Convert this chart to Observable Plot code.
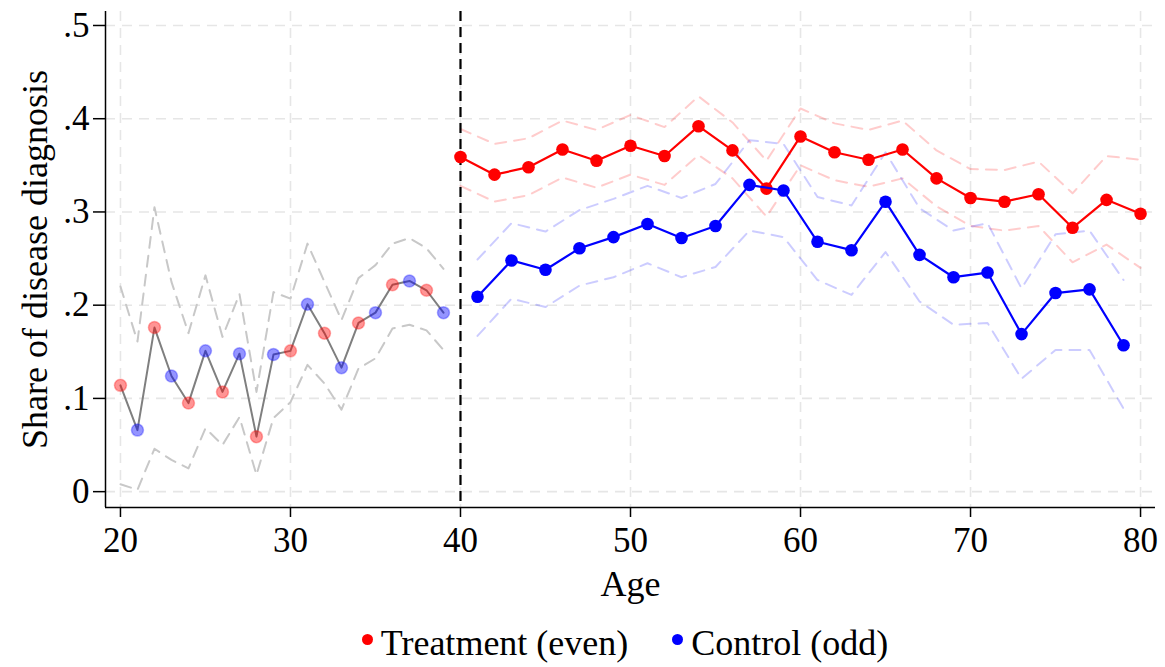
<!DOCTYPE html>
<html><head><meta charset="utf-8">
<script src="https://cdn.jsdelivr.net/npm/d3@7"></script>
<script src="https://cdn.jsdelivr.net/npm/@observablehq/plot@0.6"></script>
<style>
body{margin:0;background:#fff;font-family:"Liberation Serif","Times New Roman",serif;}
#wrap{position:relative;width:1165px;height:667px;overflow:hidden;}
#legend{position:absolute;left:45px;top:623px;width:1160px;height:40px;display:flex;justify-content:center;align-items:center;font-size:36px;line-height:40px;color:#000;}
#legend .item{display:flex;align-items:center;margin:0 22px;}
#legend .dot{width:11px;height:11px;border-radius:50%;margin-right:8px;margin-top:-8px;}
</style></head><body>
<div id="wrap"><div id="chart"></div><div id="legend"></div></div>
<script>
// ---- data ----
const preAges = [20,21,22,23,24,25,26,27,28,29,30,31,32,33,34,35,36,37,38,39];
const preShare = [0.114,0.066,0.176,0.124,0.095,0.151,0.107,0.148,0.059,0.147,0.151,0.201,0.170,0.133,0.181,0.192,0.222,0.226,0.216,0.192];
const preUpper = [0.220,0.161,0.305,0.225,0.170,0.232,0.166,0.212,0.107,0.214,0.207,0.266,0.225,0.184,0.229,0.243,0.266,0.272,0.261,0.239];
const preLower = [0.008,0.002,0.046,0.034,0.025,0.068,0.050,0.080,0.018,0.079,0.096,0.136,0.116,0.088,0.132,0.143,0.175,0.179,0.173,0.152];

const treatAges = [40,42,44,46,48,50,52,54,56,58,60,62,64,66,68,70,72,74,76,78,80];
const treatShare = [0.359,0.340,0.348,0.367,0.355,0.371,0.360,0.392,0.366,0.325,0.381,0.364,0.356,0.367,0.336,0.315,0.311,0.319,0.283,0.313,0.298];
const treatUpper = [0.389,0.373,0.379,0.398,0.388,0.404,0.391,0.424,0.396,0.355,0.411,0.395,0.388,0.398,0.366,0.346,0.345,0.354,0.320,0.360,0.356];
const treatLower = [0.328,0.311,0.318,0.337,0.326,0.340,0.329,0.361,0.336,0.295,0.350,0.334,0.327,0.336,0.306,0.285,0.280,0.285,0.246,0.265,0.240];

const controlAges = [41,43,45,47,49,51,53,55,57,59,61,63,65,67,69,71,73,75,77,79];
const controlShare = [0.209,0.248,0.238,0.261,0.273,0.287,0.272,0.285,0.329,0.323,0.268,0.259,0.311,0.254,0.230,0.235,0.169,0.213,0.217,0.157];
const controlUpper = [0.249,0.288,0.279,0.302,0.314,0.328,0.315,0.330,0.377,0.373,0.316,0.307,0.364,0.304,0.280,0.288,0.218,0.276,0.280,0.227];
const controlLower = [0.167,0.207,0.198,0.221,0.230,0.245,0.230,0.241,0.280,0.273,0.227,0.211,0.257,0.204,0.179,0.181,0.121,0.152,0.152,0.089];

const cutoffAge = [40];
const xTicks = [20,30,40,50,60,70,80];
const yTicks = [0,0.1,0.2,0.3,0.4,0.5];
const seriesNames = ["Treatment (even)","Control (odd)"];
const seriesColors = ["#ff0000","#0000ff"];

// ---- tables ----
const pre = preAges.map((a,i)=>({age:a, share:preShare[i], upper:preUpper[i], lower:preLower[i], color: a%2===0 ? seriesColors[0] : seriesColors[1]}));
const treat = treatAges.map((a,i)=>({age:a, share:treatShare[i], upper:treatUpper[i], lower:treatLower[i]}));
const control = controlAges.map((a,i)=>({age:a, share:controlShare[i], upper:controlUpper[i], lower:controlLower[i]}));

const xDomain = [19.12, 80.88];
const yDomain = [-0.017, 0.515];
const grid = {stroke:"#e6e6e6", strokeOpacity:1, strokeWidth:1.6, strokeDasharray:"10,7"};
const ciDash = "11,8";

const chart = Plot.plot({
  width:1165, height:627,
  marginLeft:105, marginRight:10, marginTop:11, marginBottom:120,
  style:{fontFamily:"Liberation Serif, Times New Roman, serif", color:"#000", background:"#fff"},
  x:{domain:xDomain},
  y:{domain:yDomain},
  marks:[
    Plot.gridX(xTicks, grid),
    Plot.gridY(yTicks, grid),
    // pre-period CIs
    Plot.line(pre, {x:"age", y:"upper", stroke:"#c8c8c8", strokeWidth:2, strokeDasharray:ciDash}),
    Plot.line(pre, {x:"age", y:"lower", stroke:"#c8c8c8", strokeWidth:2, strokeDasharray:ciDash}),
    // post CIs
    Plot.line(treat, {x:"age", y:"upper", stroke:seriesColors[0], strokeOpacity:0.2, strokeWidth:2, strokeDasharray:ciDash}),
    Plot.line(treat, {x:"age", y:"lower", stroke:seriesColors[0], strokeOpacity:0.2, strokeWidth:2, strokeDasharray:ciDash}),
    Plot.line(control, {x:"age", y:"upper", stroke:seriesColors[1], strokeOpacity:0.2, strokeWidth:2, strokeDasharray:ciDash}),
    Plot.line(control, {x:"age", y:"lower", stroke:seriesColors[1], strokeOpacity:0.2, strokeWidth:2, strokeDasharray:ciDash}),
    // cutoff
    Plot.ruleX(cutoffAge, {stroke:"#000", strokeWidth:2.2, strokeDasharray:"10,6"}),
    // pre line and dots
    Plot.line(pre, {x:"age", y:"share", stroke:"#7f7f7f", strokeWidth:2}),
    Plot.dot(pre, {x:"age", y:"share", r:6, fill:"color", fillOpacity:0.42, stroke:"color", strokeOpacity:0.3, strokeWidth:1.5}),
    // post lines and dots
    Plot.line(treat, {x:"age", y:"share", stroke:seriesColors[0], strokeWidth:2.2}),
    Plot.dot(treat, {x:"age", y:"share", r:6.3, fill:seriesColors[0]}),
    Plot.line(control, {x:"age", y:"share", stroke:seriesColors[1], strokeWidth:2.2}),
    Plot.dot(control, {x:"age", y:"share", r:6.3, fill:seriesColors[1]}),
    // axes
    Plot.ruleX([xDomain[0]], {stroke:"#000", strokeWidth:1.5}),
    Plot.ruleY([yDomain[0]], {stroke:"#000", strokeWidth:1.5}),
    Plot.axisX(xTicks, {tickSize:10, tickPadding:10, fontSize:35, strokeWidth:1.5, label:null}),
    Plot.axisY(yTicks, {tickSize:12, tickPadding:4, fontSize:35, strokeWidth:1.5, label:null,
      tickFormat: d => d===0 ? "0" : d3.format(".1f")(d).replace(/^0/,"")}),
    Plot.text(["Age"], {frameAnchor:"bottom", dy:88, text:d=>d, fontSize:36}),
    Plot.text(["Share of disease diagnosis"], {frameAnchor:"left", dx:-70, rotate:-90, textAnchor:"middle", text:d=>d, fontSize:36})
  ]
});
document.getElementById("chart").appendChild(chart);

const legend = document.getElementById("legend");
seriesNames.forEach((n,i)=>{
  const item = document.createElement("div"); item.className="item";
  const dot = document.createElement("span"); dot.className="dot"; dot.style.background=seriesColors[i];
  const t = document.createElement("span"); t.textContent=n;
  item.appendChild(dot); item.appendChild(t); legend.appendChild(item);
});
</script>
</body></html>
